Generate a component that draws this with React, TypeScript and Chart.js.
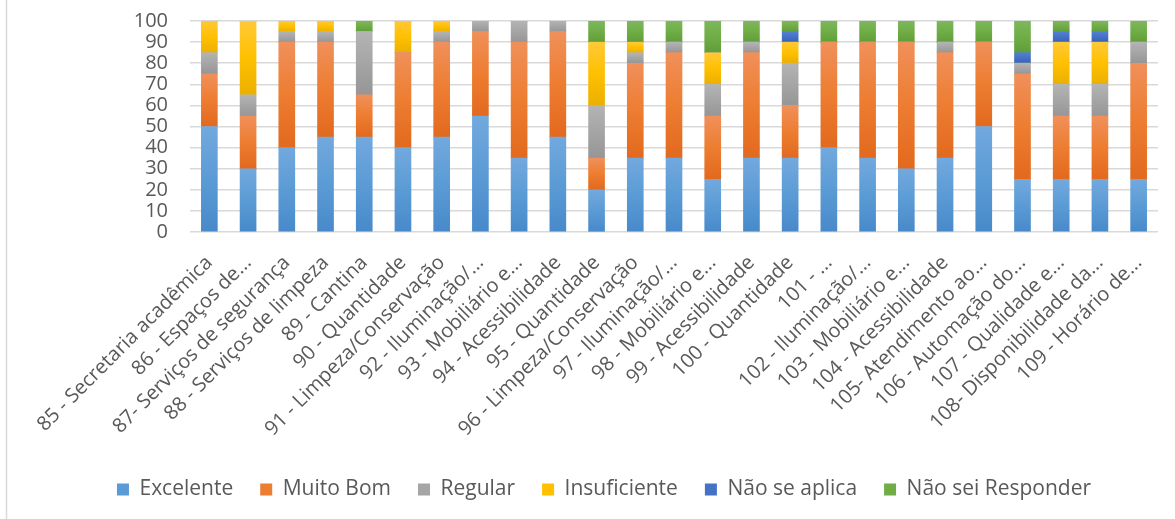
import React, { useEffect, useRef } from 'react';
import { Chart, registerables } from 'chart.js';

Chart.register(...registerables);

const categories = [
  '85 - Secretaria acadêmica',
  '86 - Espaços de...',
  '87- Serviços de segurança',
  '88 - Serviços de limpeza',
  '89 - Cantina',
  '90 - Quantidade',
  '91 - Limpeza/Conservação',
  '92 - Iluminação/...',
  '93 - Mobiliário e...',
  '94 - Acessibilidade',
  '95 - Quantidade',
  '96 - Limpeza/Conservação',
  '97 - Iluminação/...',
  '98 - Mobiliário e...',
  '99 - Acessibilidade',
  '100 - Quantidade',
  '101 - ...',
  '102 - Iluminação/...',
  '103 - Mobiliário e...',
  '104 - Acessibilidade',
  '105- Atendimento ao...',
  '106 - Automação do...',
  '107 - Qualidade e...',
  '108- Disponibilidade da...',
  '109 - Horário de...',
];

const excelente =    [50, 30, 40, 45, 45, 40, 45, 55, 35, 45, 20, 35, 35, 25, 35, 35, 40, 35, 30, 35, 50, 25, 25, 25, 25];
const muitoBom =     [25, 25, 50, 45, 20, 45, 45, 40, 55, 50, 15, 45, 50, 30, 50, 25, 50, 55, 60, 50, 40, 50, 30, 30, 55];
const regular =      [10, 10,  5,  5, 30,  0,  5,  5, 10,  5, 25,  5,  5, 15,  5, 20,  0,  0,  0,  5,  0,  5, 15, 15, 10];
const insuficiente = [15, 35,  5,  5,  0, 15,  5,  0,  0,  0, 30,  5,  0, 15,  0, 10,  0,  0,  0,  0,  0,  0, 20, 20,  0];
const naoSeAplica =  [ 0,  0,  0,  0,  0,  0,  0,  0,  0,  0,  0,  0,  0,  0,  0,  5,  0,  0,  0,  0,  0,  5,  5,  5,  0];
const naoSeiResp =   [ 0,  0,  0,  0,  5,  0,  0,  0,  0,  0, 10, 10, 10, 15, 10,  5, 10, 10, 10, 10, 10, 15,  5,  5, 10];

const seriesNames = ['Excelente', 'Muito Bom', 'Regular', 'Insuficiente', 'Não se aplica', 'Não sei Responder'];
const seriesValues = [excelente, muitoBom, regular, insuficiente, naoSeAplica, naoSeiResp];
// [solid, light (top), dark (bottom)]
const seriesColors = [
  ['#5B9BD5', '#72A9DE', '#4789CA'],
  ['#ED7D31', '#F0905A', '#E2691E'],
  ['#A5A5A5', '#B4B4B4', '#969696'],
  ['#FFC000', '#FFC938', '#EBB000'],
  ['#4472C4', '#5580D0', '#3462BA'],
  ['#70AD47', '#7CB85A', '#5E9E38'],
];

const FONT = "'Open Sans', sans-serif";
const TEXT = '#595959';

const borderPlugin = {
  id: 'outerBorder',
  beforeDraw(chart: any) {
    const c = chart.ctx;
    c.save();
    c.strokeStyle = '#d9d9d9';
    c.lineWidth = 1.5;
    c.beginPath();
    c.moveTo(6.5, 0);
    c.lineTo(6.5, chart.height);
    c.stroke();
    c.restore();
  },
};

export default function App() {
  const ref = useRef<HTMLCanvasElement>(null);

  useEffect(() => {
    document.body.style.margin = '0';
    const chart = new Chart(ref.current!, {
      type: 'bar',
      data: {
        labels: categories,
        datasets: seriesNames.map((name, si) => ({
          label: name,
          data: seriesValues[si],
          backgroundColor: (ctx: any) => {
            const ch = ctx.chart;
            const y = ch.scales && ch.scales.y;
            const i = ctx.dataIndex;
            if (!y || i === undefined || ctx.type !== 'data') return seriesColors[si][0];
            let base = 0;
            for (let k = 0; k < si; k++) base += seriesValues[k][i];
            const top = base + seriesValues[si][i];
            const y0 = y.getPixelForValue(top);
            const y1 = y.getPixelForValue(base);
            if (!isFinite(y0) || !isFinite(y1) || y1 - y0 < 1) return seriesColors[si][0];
            const g = ch.ctx.createLinearGradient(0, y0, 0, y1);
            g.addColorStop(0, seriesColors[si][1]);
            g.addColorStop(0.5, seriesColors[si][0]);
            g.addColorStop(1, seriesColors[si][2]);
            return g;
          },
          borderWidth: 0,
          barThickness: 16,
        })),
      },
      options: {
        animation: false,
        responsive: true,
        maintainAspectRatio: false,
        layout: { padding: { top: 0, right: 17, left: 50, bottom: 9 } },
        plugins: {
          tooltip: { enabled: false },
          legend: {
            position: 'bottom',
            labels: {
              boxWidth: 12,
              boxHeight: 12,
              padding: 27,
              color: TEXT,
              font: { family: FONT, size: 21 },
              generateLabels: () =>
                seriesNames.map((name, si) => ({
                  text: name,
                  fillStyle: seriesColors[si][0],
                  strokeStyle: seriesColors[si][0],
                  lineWidth: 0,
                  hidden: false,
                  datasetIndex: si,
                  fontColor: TEXT,
                })),
            },
          },
        },
        scales: {
          x: {
            stacked: true,
            grid: { display: false },
            border: { display: false },
            ticks: {
              autoSkip: false,
              minRotation: 45,
              maxRotation: 45,
              color: TEXT,
              font: { family: FONT, size: 20 },
              padding: 11,
            },
          },
          y: {
            stacked: true,
            min: 0,
            max: 100,
            afterFit: (s: any) => {
              s.width = 140;
              s.paddingTop = 21;
              s.paddingBottom = 0;
            },
            grid: { color: '#d9d9d9', lineWidth: 1.5, drawTicks: false },
            border: { display: false },
            ticks: {
              stepSize: 10,
              autoSkip: false,
              color: TEXT,
              font: { family: FONT, size: 20 },
              padding: 22,
            },
          },
        },
      },
      plugins: [borderPlugin],
    });
    return () => chart.destroy();
  }, []);

  return (
    <div style={{ width: 1175, height: 519, position: 'relative' }}>
      <canvas ref={ref} />
    </div>
  );
}
